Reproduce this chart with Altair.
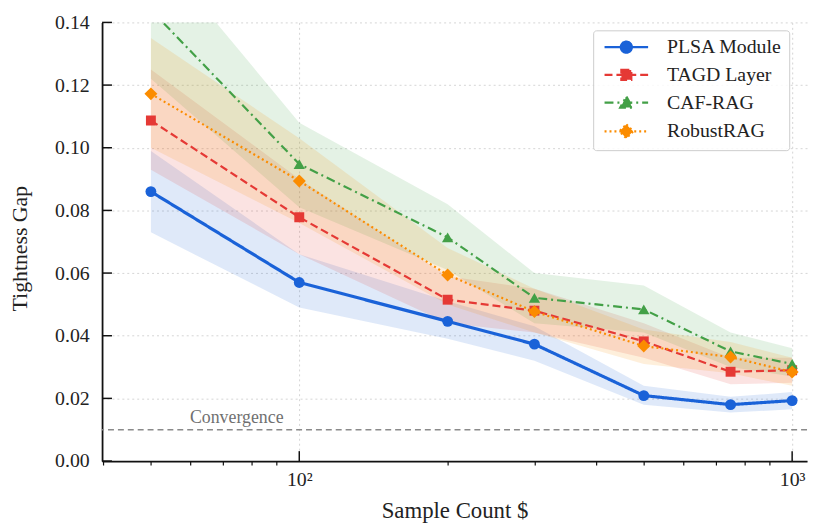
import altair as alt
import pandas as pd

# ---------------- data ----------------
x_vals = [50, 100, 200, 300, 500, 750, 1000]
series_names = ["PLSA Module", "TAGD Layer", "CAF-RAG", "RobustRAG"]
colors = ["#1a62d8", "#e53935", "#43a047", "#fb8c00"]

plsa = [0.086, 0.057, 0.0446, 0.0373, 0.0209, 0.018, 0.0193]
plsa_lo = [0.073, 0.049, 0.039, 0.032, 0.018, 0.0155, 0.0165]
plsa_hi = [0.099, 0.066, 0.051, 0.043, 0.024, 0.0205, 0.022]

tagd = [0.1087, 0.0778, 0.0515, 0.048, 0.0382, 0.0285, 0.029]
tagd_lo = [0.093, 0.066, 0.044, 0.041, 0.033, 0.0245, 0.025]
tagd_hi = [0.125, 0.090, 0.059, 0.055, 0.044, 0.033, 0.033]

caf = [0.144, 0.0948, 0.0714, 0.0521, 0.0484, 0.035, 0.031]
caf_lo = [0.122, 0.081, 0.061, 0.044, 0.041, 0.030, 0.027]
caf_hi = [0.165, 0.108, 0.082, 0.060, 0.056, 0.041, 0.036]

robust = [0.1172, 0.0894, 0.0594, 0.0477, 0.0367, 0.0332, 0.0284]
robust_lo = [0.100, 0.076, 0.050, 0.041, 0.031, 0.028, 0.024]
robust_hi = [0.135, 0.103, 0.068, 0.055, 0.042, 0.038, 0.033]

y_ticks = [0.0, 0.02, 0.04, 0.06, 0.08, 0.10, 0.12, 0.14]
x_ticks = [40, 50, 60, 70, 80, 90, 100, 200, 300, 400, 500, 600, 700, 800, 900, 1000]
x_major = [100, 1000]
convergence = 0.01
conv_label_x = 60
conv_label_y = 0.012

# styles
dashes = [[1, 0], [8, 4], [9, 4, 2, 4], [2, 3]]
widths = [3.2, 2.2, 2.2, 2.2]
shapes = ["circle", "square", "triangle-up", "diamond"]
sizes = [120, 100, 130, 170]
legend_paths = [
    "M-4,0H4M1,0A1,1,0,1,1,-1,0A1,1,0,1,1,1,0Z",
    "M-4,0H4M-0.9,-0.9H0.9V0.9H-0.9Z",
    "M-4,0H4M0,-1.1L1.1,0.9H-1.1Z",
    "M-4,0H4M0,-1.25L1.25,0L0,1.25L-1.25,0Z",
]

# ---------------- table ----------------
rows = []
for name, m, lo, hi in zip(series_names,
                           [plsa, tagd, caf, robust],
                           [plsa_lo, tagd_lo, caf_lo, robust_lo],
                           [plsa_hi, tagd_hi, caf_hi, robust_hi]):
    for x, a, b, c in zip(x_vals, m, lo, hi):
        rows.append({"n": x, "series": name, "gap": a, "lo": b, "hi": c})
df = pd.DataFrame(rows)

W, H = 712, 443
FONT = "Liberation Serif"

xscale = alt.Scale(type="log", domain=[39.8, 1072], nice=False)
yscale = alt.Scale(domain=[0, 0.14], nice=False, zero=False)

x_axis = alt.Axis(
    values=x_ticks,
    labelExpr="datum.value == 100 ? '10²' : datum.value == 1000 ? '10³' : ''",
    title="Sample Count $", titleFont=FONT, titleFontSize=23, titleFontWeight="normal",
    titleColor="#222", titleX=W / 2, titleY=50, titleBaseline="middle",
    tickSize=4, tickColor="#111", tickWidth=1.2,
    tickOpacity={"condition": {"test": "datum.value == 100 || datum.value == 1000", "value": 0}, "value": 1},
    labelFont=FONT, labelFontSize=20, labelColor="#222", labelPadding=5,
    labelFlush=False, labelOverlap=False,
    domainColor="#111", domainWidth=1.8,
    grid=True, gridColor="#d5d5d5", gridDash=[2, 3], gridWidth=1,
    gridOpacity={"condition": {"test": "datum.value == 100 || datum.value == 1000", "value": 1}, "value": 0},
)
y_axis = alt.Axis(
    values=y_ticks, format=".2f",
    title="Tightness Gap", titleFont=FONT, titleFontSize=22, titleFontWeight="normal",
    titleColor="#222", titleX=-83, titleY=228, titleAngle=270,
    titleAlign="center", titleBaseline="middle",
    ticks=False, tickSize=0, labelPadding=13,
    labelFont=FONT, labelFontSize=20, labelColor="#222",
    domainColor="#111", domainWidth=1.8,
    grid=True, gridColor="#d5d5d5", gridDash=[2, 3], gridWidth=1,
)


def X(field):
    return alt.X(field, scale=xscale, axis=x_axis)


def Y(field):
    return alt.Y(field, scale=yscale, axis=y_axis)


base = alt.Chart(df)

band_layers = []
line_layers = []
for name, col, dash, wdt, shp, sz in zip(series_names, colors, dashes, widths, shapes, sizes):
    sub = base.transform_filter(alt.datum.series == name)
    band_layers.append(
        sub.mark_area(opacity=0.14, color=col, clip=True).encode(x=X("n:Q"), y=Y("lo:Q"), y2="hi:Q")
    )
    line_layers.append(
        sub.mark_line(color=col, strokeDash=dash, strokeWidth=wdt, clip=True).encode(x=X("n:Q"), y=Y("gap:Q"))
    )
    line_layers.append(
        sub.mark_point(filled=True, fill=col, shape=shp, size=sz, opacity=1, strokeWidth=0, clip=True)
        .encode(x=X("n:Q"), y=Y("gap:Q"))
    )

conv_rule = alt.Chart(pd.DataFrame({"c": [convergence]})).mark_rule(
    color="#8a8a8a", strokeDash=[6, 4], strokeWidth=1.6
).encode(y=Y("c:Q"))

conv_text = alt.Chart(pd.DataFrame({"n": [conv_label_x], "c": [conv_label_y]})).mark_text(
    text="Convergence", font=FONT, fontSize=18, color="#707070", align="left", baseline="alphabetic"
).encode(x=X("n:Q"), y=Y("c:Q"))

legend = alt.Legend(
    title=None, orient="none", legendX=496, legendY=8,
    labelFont=FONT, labelFontSize=20, labelColor="#222", labelOffset=31,
    symbolSize=121, symbolOffset=16.5, symbolStrokeWidth=2.4, symbolOpacity=1,
    rowPadding=7, padding=7, strokeColor="#cccccc",
    fillColor="rgba(255,255,255,0.85)", cornerRadius=3,
)
legend_layer = base.mark_point(opacity=0, size=121, filled=False).encode(
    x=X("n:Q"), y=Y("gap:Q"),
    stroke=alt.Stroke("series:N", scale=alt.Scale(domain=series_names, range=colors), legend=legend),
    fill=alt.Fill("series:N", scale=alt.Scale(domain=series_names, range=colors), legend=legend),
    shape=alt.Shape("series:N", scale=alt.Scale(domain=series_names, range=legend_paths), legend=legend),
    strokeDash=alt.StrokeDash("series:N", scale=alt.Scale(domain=series_names, range=dashes), legend=legend),
)

ytick_rules = alt.Chart(pd.DataFrame({"v": y_ticks})).mark_rule(color="#111", strokeWidth=1.5).encode(
    y=Y("v:Q"), x=alt.value(0), x2=alt.value(10)
)
xtick_rules = alt.Chart(pd.DataFrame({"n": x_major})).mark_rule(color="#111", strokeWidth=1.5).encode(
    x=X("n:Q"), y=alt.value(H), y2=alt.value(H - 10)
)

chart = alt.layer(
    *band_layers, conv_rule, conv_text, *line_layers, legend_layer, ytick_rules, xtick_rules
).properties(
    width=W, height=H,
    padding={"left": 95, "top": 12, "right": 3, "bottom": 60},
    autosize=alt.AutoSizeParams(type="none"),
    background="white",
).configure_view(stroke=None)

chart.save("out.html", embed_options={"renderer": "svg", "actions": False})
